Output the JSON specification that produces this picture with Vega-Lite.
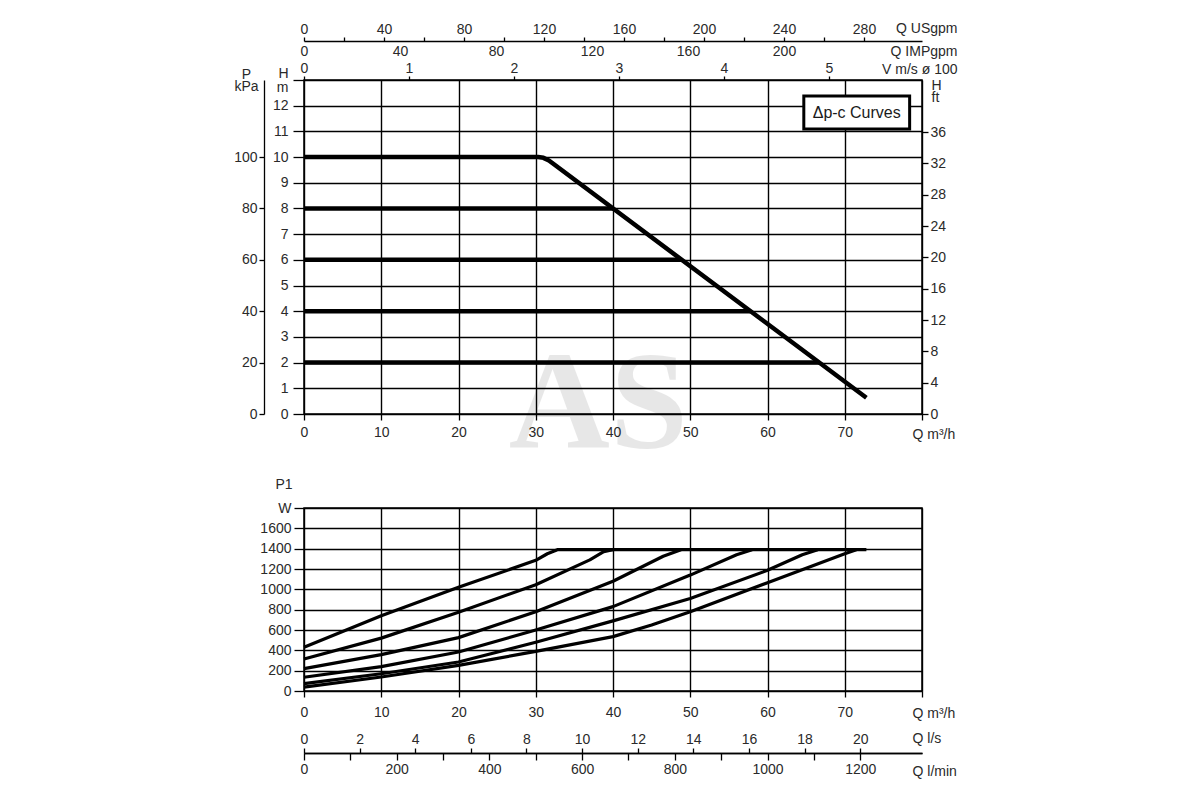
{
  "$schema": "https://vega.github.io/schema/vega-lite/v6.json",
  "background": "white",
  "padding": {"left": 232, "top": 20, "right": 5, "bottom": 5},
  "spacing": 94,
  "bounds": "flush",
  "config": {
    "view": {"stroke": "#000", "strokeWidth": 1.5},
    "font": "Liberation Sans",
    "axis": {
      "grid": false,
      "labelFont": "Liberation Sans",
      "labelFontSize": 14,
      "labelColor": "#2a2a2a",
      "titleFont": "Liberation Sans",
      "titleFontSize": 14,
      "titleFontWeight": "normal",
      "titleColor": "#2a2a2a",
      "titleAngle": 0,
      "tickColor": "#000",
      "tickWidth": 1.3,
      "domainColor": "#000",
      "domainWidth": 1.3,
      "gridColor": "#000",
      "gridWidth": 1.4,
      "gridOpacity": 1,
      "labelFlush": false,
      "labelOverlap": false
    }
  },
  "datasets": {
    "head": [
      {"curve": "max", "q": 0, "h": 10},
      {"curve": "max", "q": 30.3, "h": 10},
      {"curve": "max", "q": 31.0, "h": 9.97},
      {"curve": "max", "q": 31.7, "h": 9.87},
      {"curve": "max", "q": 32.4, "h": 9.71},
      {"curve": "max", "q": 72.8, "h": 0.63},
      {"curve": "8 m", "q": 0, "h": 8},
      {"curve": "8 m", "q": 40.0, "h": 8},
      {"curve": "6 m", "q": 0, "h": 6},
      {"curve": "6 m", "q": 48.9, "h": 6},
      {"curve": "4 m", "q": 0, "h": 4},
      {"curve": "4 m", "q": 57.8, "h": 4},
      {"curve": "2 m", "q": 0, "h": 2},
      {"curve": "2 m", "q": 66.7, "h": 2}
    ],
    "power": [
      {"curve": "10 m", "q": 0, "p": 430},
      {"curve": "10 m", "q": 10, "p": 740},
      {"curve": "10 m", "q": 20, "p": 1020},
      {"curve": "10 m", "q": 30, "p": 1285},
      {"curve": "10 m", "q": 31.5, "p": 1350},
      {"curve": "10 m", "q": 32.8, "p": 1390},
      {"curve": "10 m", "q": 72.8, "p": 1390},
      {"curve": "8 m", "q": 0, "p": 315},
      {"curve": "8 m", "q": 10, "p": 520},
      {"curve": "8 m", "q": 20, "p": 775},
      {"curve": "8 m", "q": 30, "p": 1045},
      {"curve": "8 m", "q": 37, "p": 1290},
      {"curve": "8 m", "q": 38.8, "p": 1370},
      {"curve": "8 m", "q": 40.0, "p": 1390},
      {"curve": "6 m", "q": 0, "p": 220},
      {"curve": "6 m", "q": 10, "p": 358},
      {"curve": "6 m", "q": 20, "p": 525},
      {"curve": "6 m", "q": 30, "p": 780},
      {"curve": "6 m", "q": 40, "p": 1080},
      {"curve": "6 m", "q": 46.5, "p": 1325},
      {"curve": "6 m", "q": 48.8, "p": 1390},
      {"curve": "4 m", "q": 0, "p": 135},
      {"curve": "4 m", "q": 10, "p": 240},
      {"curve": "4 m", "q": 20, "p": 384},
      {"curve": "4 m", "q": 30, "p": 600},
      {"curve": "4 m", "q": 40, "p": 830},
      {"curve": "4 m", "q": 50, "p": 1140},
      {"curve": "4 m", "q": 56, "p": 1340},
      {"curve": "4 m", "q": 58.0, "p": 1390},
      {"curve": "2 m", "q": 0, "p": 72},
      {"curve": "2 m", "q": 10, "p": 170},
      {"curve": "2 m", "q": 20, "p": 285},
      {"curve": "2 m", "q": 30, "p": 480},
      {"curve": "2 m", "q": 40, "p": 690},
      {"curve": "2 m", "q": 50, "p": 910},
      {"curve": "2 m", "q": 60, "p": 1187},
      {"curve": "2 m", "q": 64.5, "p": 1340},
      {"curve": "2 m", "q": 66.5, "p": 1390},
      {"curve": "min", "q": 0, "p": 38},
      {"curve": "min", "q": 10, "p": 138},
      {"curve": "min", "q": 20, "p": 252},
      {"curve": "min", "q": 30, "p": 390},
      {"curve": "min", "q": 40, "p": 535},
      {"curve": "min", "q": 45, "p": 650},
      {"curve": "min", "q": 50, "p": 780},
      {"curve": "min", "q": 60, "p": 1065},
      {"curve": "min", "q": 70, "p": 1350},
      {"curve": "min", "q": 71.5, "p": 1390}
    ],
    "usgpm": [{"v": 0}, {"v": 140}, {"v": 280}],
    "impgpm": [{"v": 0}, {"v": 100}, {"v": 200}],
    "speed": [{"v": 0}, {"v": 2.5}, {"v": 5}],
    "kpa": [{"v": 0}, {"v": 50}, {"v": 100}],
    "feet": [{"v": 0}, {"v": 20}, {"v": 36}],
    "lps": [{"v": 0}, {"v": 10}, {"v": 20}],
    "lpm": [{"v": 0}, {"v": 600}, {"v": 1200}]
  },
  "vconcat": [
    {
      "width": 618,
      "height": 334,
      "resolve": {"scale": {"x": "independent", "y": "independent"}},
      "layer": [
        {
          "data": {"values": [{"label": "AS", "q": 38.1, "h": -1.32}]},
          "mark": {"type": "text", "font": "Liberation Serif", "fontWeight": "bold", "fontSize": 140, "color": "#000", "opacity": 0.09, "align": "center", "baseline": "alphabetic"},
          "encoding": {
            "x": {"field": "q", "type": "quantitative", "scale": {"domain": [0, 80], "nice": false}, "axis": null},
            "y": {"field": "h", "type": "quantitative", "scale": {"domain": [0, 13], "nice": false}, "axis": null},
            "text": {"field": "label"}
          }
        },
        {
          "data": {"name": "head"},
          "mark": {"type": "line", "color": "#000", "strokeWidth": 4.5, "strokeJoin": "round"},
          "encoding": {
            "x": {
              "field": "q", "type": "quantitative",
              "scale": {"domain": [0, 80], "nice": false},
              "axis": {
                "orient": "bottom", "values": [0, 10, 20, 30, 40, 50, 60, 70, 80],
                "labelExpr": "datum.value == 80 ? '' : datum.label",
                "grid": true, "domain": false, "tickSize": 6, "labelPadding": 5,
                "title": "Q m³/h", "titleX": 608, "titleY": 20, "titleAlign": "left", "titleBaseline": "middle"
              }
            },
            "y": {
              "field": "h", "type": "quantitative",
              "scale": {"domain": [0, 13], "nice": false},
              "axis": {
                "orient": "left", "values": [0, 1, 2, 3, 4, 5, 6, 7, 8, 9, 10, 11, 12, 13],
                "labelExpr": "datum.value == 13 ? 'H' : datum.label",
                "labelBaseline": {"condition": {"test": "datum.value == 13", "value": "bottom"}, "value": "middle"},
                "grid": true, "domain": false, "tickSize": 11, "labelPadding": 5,
                "title": "m", "titleX": -22, "titleY": 7, "titleAlign": "center", "titleBaseline": "middle"
              }
            },
            "detail": {"field": "curve"}
          }
        },
        {
          "data": {"values": [{"q1": 64.7, "q2": 78.4, "h1": 11.09, "h2": 12.38}]},
          "mark": {"type": "rect", "fill": "white", "stroke": "#000", "strokeWidth": 3},
          "encoding": {
            "x": {"field": "q1", "type": "quantitative", "scale": {"domain": [0, 80], "nice": false}, "axis": null},
            "x2": {"field": "q2"},
            "y": {"field": "h1", "type": "quantitative", "scale": {"domain": [0, 13], "nice": false}, "axis": null},
            "y2": {"field": "h2"}
          }
        },
        {
          "data": {"values": [{"label": "Δp-c Curves", "q": 71.55, "h": 11.73}]},
          "mark": {"type": "text", "fontSize": 16, "color": "#1a1a1a", "align": "center", "baseline": "middle"},
          "encoding": {
            "x": {"field": "q", "type": "quantitative", "scale": {"domain": [0, 80], "nice": false}, "axis": null},
            "y": {"field": "h", "type": "quantitative", "scale": {"domain": [0, 13], "nice": false}, "axis": null},
            "text": {"field": "label"}
          }
        },
        {
          "data": {"name": "speed"},
          "mark": {"type": "point", "opacity": 0},
          "encoding": {
            "x": {
              "field": "v", "type": "quantitative",
              "scale": {"domain": [0, 5.886], "nice": false},
              "axis": {
                "orient": "top", "offset": 0, "values": [0, 1, 2, 3, 4, 5],
                "domain": false, "tickSize": 4, "labelPadding": 1,
                "title": "V m/s ø 100", "titleX": 653, "titleY": -11, "titleAlign": "right", "titleBaseline": "middle"
              }
            },
            "y": {"datum": 6, "type": "quantitative", "scale": {"domain": [0, 13], "nice": false}, "axis": null}
          }
        },
        {
          "data": {"name": "impgpm"},
          "mark": {"type": "point", "opacity": 0},
          "encoding": {
            "x": {
              "field": "v", "type": "quantitative",
              "scale": {"domain": [0, 257.5], "nice": false},
              "axis": {
                "orient": "top", "offset": 22, "values": [0, 40, 80, 120, 160, 200],
                "domain": false, "ticks": false, "tickSize": 0, "labelPadding": 0,
                "title": "Q IMPgpm", "titleX": 653, "titleY": -7, "titleAlign": "right", "titleBaseline": "middle"
              }
            },
            "y": {"datum": 6, "type": "quantitative", "scale": {"domain": [0, 13], "nice": false}, "axis": null}
          }
        },
        {
          "data": {"name": "usgpm"},
          "mark": {"type": "point", "opacity": 0},
          "encoding": {
            "x": {
              "field": "v", "type": "quantitative",
              "scale": {"domain": [0, 309], "nice": false},
              "axis": {
                "orient": "top", "offset": 39,
                "values": [0, 20, 40, 60, 80, 100, 120, 140, 160, 180, 200, 220, 240, 260, 280],
                "labelExpr": "datum.value % 40 == 0 ? datum.label : ''",
                "domain": true, "tickSize": 4, "labelPadding": 1,
                "title": "Q USgpm", "titleX": 653, "titleY": -13, "titleAlign": "right", "titleBaseline": "middle"
              }
            },
            "y": {"datum": 6, "type": "quantitative", "scale": {"domain": [0, 13], "nice": false}, "axis": null}
          }
        },
        {
          "data": {"name": "kpa"},
          "mark": {"type": "point", "opacity": 0},
          "encoding": {
            "x": {"datum": 40, "type": "quantitative", "scale": {"domain": [0, 80], "nice": false}, "axis": null},
            "y": {
              "field": "v", "type": "quantitative",
              "scale": {"domain": [0, 130], "nice": false},
              "axis": {
                "orient": "left", "offset": 40, "values": [0, 20, 40, 60, 80, 100],
                "domain": true, "tickSize": 5, "labelPadding": 2,
                "title": ["P", "kPa"], "titleX": -18, "titleY": -1.5, "titleAlign": "center", "titleBaseline": "alphabetic", "titleLineHeight": 12
              }
            }
          }
        },
        {
          "data": {"name": "feet"},
          "mark": {"type": "point", "opacity": 0},
          "encoding": {
            "x": {"datum": 40, "type": "quantitative", "scale": {"domain": [0, 80], "nice": false}, "axis": null},
            "y": {
              "field": "v", "type": "quantitative",
              "scale": {"domain": [0, 42.65], "nice": false},
              "axis": {
                "orient": "right", "offset": 0, "values": [0, 4, 8, 12, 16, 20, 24, 28, 32, 36],
                "domain": false, "tickSize": 6, "labelPadding": 2,
                "title": ["H", "ft"], "titleX": 9, "titleY": 9, "titleAlign": "left", "titleBaseline": "alphabetic", "titleLineHeight": 12
              }
            }
          }
        }
      ]
    },
    {
      "width": 618,
      "height": 183,
      "resolve": {"scale": {"x": "independent", "y": "independent"}},
      "layer": [
        {
          "data": {"name": "power"},
          "mark": {"type": "line", "color": "#000", "strokeWidth": 3.2, "strokeJoin": "round"},
          "encoding": {
            "x": {
              "field": "q", "type": "quantitative",
              "scale": {"domain": [0, 80], "nice": false},
              "axis": {
                "orient": "bottom", "values": [0, 10, 20, 30, 40, 50, 60, 70, 80],
                "labelExpr": "datum.value == 80 ? '' : datum.label",
                "grid": true, "domain": false, "tickSize": 6, "labelPadding": 8,
                "title": "Q m³/h", "titleX": 608, "titleY": 22, "titleAlign": "left", "titleBaseline": "middle"
              }
            },
            "y": {
              "field": "p", "type": "quantitative",
              "scale": {"domain": [0, 1800], "nice": false},
              "axis": {
                "orient": "left", "values": [0, 200, 400, 600, 800, 1000, 1200, 1400, 1600, 1800],
                "labelExpr": "datum.value == 1800 ? 'W' : datum.label",
                "format": "d",
                "grid": true, "domain": false, "tickSize": 10, "labelPadding": 3,
                "title": "P1", "titleX": -29, "titleY": -24, "titleAlign": "left", "titleBaseline": "middle"
              }
            },
            "detail": {"field": "curve"}
          }
        },
        {
          "data": {"name": "lps"},
          "mark": {"type": "point", "opacity": 0},
          "encoding": {
            "x": {
              "field": "v", "type": "quantitative",
              "scale": {"domain": [0, 22.222], "nice": false},
              "axis": {
                "orient": "top", "offset": -245, "values": [0, 2, 4, 6, 8, 10, 12, 14, 16, 18, 20],
                "domain": true, "tickSize": 5, "labelPadding": 2,
                "title": "Q l/s", "titleX": 608, "titleY": -15, "titleAlign": "left", "titleBaseline": "middle"
              }
            },
            "y": {"datum": 900, "type": "quantitative", "scale": {"domain": [0, 1800], "nice": false}, "axis": null}
          }
        },
        {
          "data": {"name": "lpm"},
          "mark": {"type": "point", "opacity": 0},
          "encoding": {
            "x": {
              "field": "v", "type": "quantitative",
              "scale": {"domain": [0, 1333.3], "nice": false},
              "axis": {
                "orient": "bottom", "offset": 62,
                "values": [0, 100, 200, 300, 400, 500, 600, 700, 800, 900, 1000, 1100, 1200],
                "labelExpr": "datum.value % 200 == 0 ? datum.label : ''",
                "format": "d",
                "domain": true, "tickSize": 7, "labelPadding": 2,
                "title": "Q l/min", "titleX": 608, "titleY": 18, "titleAlign": "left", "titleBaseline": "middle"
              }
            },
            "y": {"datum": 900, "type": "quantitative", "scale": {"domain": [0, 1800], "nice": false}, "axis": null}
          }
        }
      ]
    }
  ]
}
